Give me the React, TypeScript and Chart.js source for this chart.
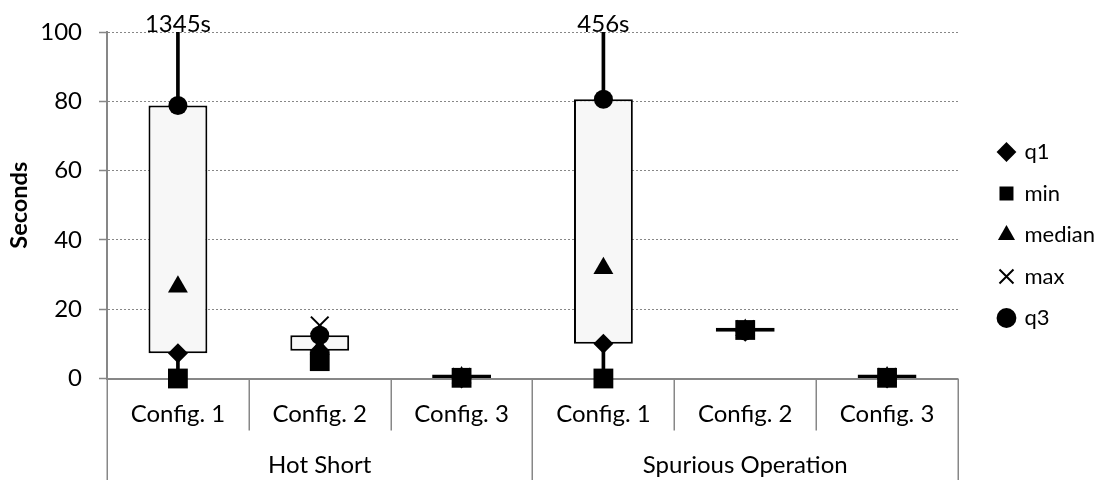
import React, { useEffect, useRef } from 'react';
import { Chart, registerables } from 'chart.js';

Chart.register(...registerables);

// ---- data ----
const categories = ['Config. 1', 'Config. 2', 'Config. 3', 'Config. 1', 'Config. 2', 'Config. 3'];
const groups = ['Hot Short', 'Spurious Operation'];
const groupSize = 3;
const minVals = [0, 5, 0.2, 0, 14, 0.2];
const q1Vals = [7.3, 8, 0, 10, 13.5, 0];
const medianVals = [26.5, 8.5, 0.3, 31.8, 14, 0.3];
const q3Vals = [78.8, 12.5, 0.3, 80.6, 13.8, 0.3];
const maxVals = [1345, 15.3, 0.4, 456, 14.2, 0.4];
const yTicks = [0, 20, 40, 60, 80, 100];
const yTitle = 'Seconds';

const FONT = 'Lato, "Open Sans", sans-serif';
const GRAY = '#878787';
const TXT = '#000000';
const TICK_SIZE = 24;

const decorPlugin = {
  id: 'decor',
  afterDraw(chart: any) {
    const { ctx, chartArea, scales } = chart;
    const x = scales.x;
    const y = scales.y;
    const n = categories.length;
    ctx.save();
    // category separators
    ctx.strokeStyle = GRAY;
    ctx.lineWidth = 1.5;
    for (let b = 0; b <= n; b++) {
      const px = Math.round(x.getPixelForValue(b - 0.5)) + 0.25;
      const isGroup = b % groupSize === 0;
      const yEnd = isGroup ? chart.height : chartArea.bottom + 52;
      ctx.beginPath();
      ctx.moveTo(px, chartArea.bottom);
      ctx.lineTo(px, yEnd);
      ctx.stroke();
    }
    ctx.fillStyle = TXT;
    ctx.font = `${TICK_SIZE}px ${FONT}`;
    ctx.textAlign = 'center';
    // group labels (second level of the category axis)
    ctx.textBaseline = 'middle';
    groups.forEach((g, gi) => {
      const first = gi * groupSize;
      const last = first + groupSize - 1;
      const cx = (x.getPixelForValue(first - 0.5) + x.getPixelForValue(last + 0.5)) / 2;
      ctx.fillText(g, cx, chartArea.bottom + 87);
    });
    // off-scale max labels
    ctx.textBaseline = 'alphabetic';
    const yMax = y.max;
    maxVals.forEach((v, i) => {
      if (v > yMax) {
        ctx.fillText(`${v}s`, x.getPixelForValue(i), chartArea.top - 0.5);
      }
    });
    ctx.restore();
  },
};

const pointDs = (label: string, data: number[], style: string, radius: number, order: number, bw = 0) => ({
  type: 'line' as const,
  label,
  data,
  showLine: false,
  clip: false,
  pointStyle: style,
  pointRadius: radius,
  pointHoverRadius: radius,
  backgroundColor: '#000',
  borderColor: '#000',
  pointBackgroundColor: '#000',
  pointBorderColor: '#000',
  pointBorderWidth: bw,
  borderWidth: bw,
  order,
});

export default function App() {
  const ref = useRef<HTMLCanvasElement | null>(null);

  useEffect(() => {
    document.body.style.margin = '0';
    if (!ref.current) return;
    const chart = new Chart(ref.current, {
      type: 'bar',
      data: {
        labels: categories,
        datasets: [
          {
            type: 'bar',
            label: 'whisker',
            data: categories.map((_, i) => [minVals[i], maxVals[i]]) as any,
            backgroundColor: '#000',
            borderWidth: 0,
            barThickness: 3,
            grouped: false,
            order: 10,
          } as any,
          {
            type: 'bar',
            label: 'box',
            data: categories.map((_, i) => [q1Vals[i], q3Vals[i]]) as any,
            backgroundColor: '#f7f7f7',
            borderColor: '#000',
            borderWidth: 2,
            borderSkipped: false,
            barPercentage: 0.415,
            categoryPercentage: 1,
            grouped: false,
            minBarLength: 4,
            clip: false,
            order: 9,
          } as any,
          pointDs('q1', q1Vals, 'rectRot', 10, 4),
          pointDs('min', minVals, 'rect', 14, 0),
          pointDs('median', medianVals, 'triangle', 11.5, 3),
          pointDs('max', maxVals, 'crossRot', 12.5, 2, 2),
          pointDs('q3', q3Vals, 'circle', 9.5, 1),
        ] as any,
      },
      options: {
        animation: false,
        responsive: false,
        devicePixelRatio: 1,
        layout: { padding: { left: 0, right: 0, top: 0, bottom: 10 } },
        plugins: {
          title: {
            display: true,
            text: '',
            font: { size: 10, lineHeight: 1 },
            padding: { top: 22, bottom: 0 },
          },
          tooltip: { enabled: false },
          legend: {
            display: true,
            position: 'right',
            align: 'center',
            labels: {
              usePointStyle: true,
              boxWidth: 14,
              boxHeight: 14,
              padding: 19.5,
              color: TXT,
              font: { family: FONT, size: 22 },
              filter: (item: any) => item.text !== 'whisker' && item.text !== 'box',
              sort: (a: any, b: any) => a.datasetIndex - b.datasetIndex,
            },
          },
        },
        scales: {
          x: {
            type: 'category',
            position: 'bottom',
            offset: true,
            grid: { display: false, drawTicks: false },
            border: { display: true, color: GRAY, width: 2 },
            ticks: { color: TXT, font: { family: FONT, size: TICK_SIZE }, padding: 21, maxRotation: 0, autoSkip: false },
            afterFit: (s: any) => { s.height = 91.5; },
          },
          y: {
            type: 'linear',
            position: 'left',
            min: yTicks[0],
            max: yTicks[yTicks.length - 1],
            afterBuildTicks: (s: any) => { s.ticks = yTicks.map((v) => ({ value: v })); },
            grid: {
              color: (c: any) => (c.tick && c.tick.value === 0 ? 'rgba(0,0,0,0)' : GRAY),
              lineWidth: 1,
              drawTicks: true,
              tickLength: 8,
              tickColor: GRAY,
              tickWidth: 1.5,
            },
            border: { display: true, color: GRAY, width: 2, dash: [2, 2] },
            ticks: { color: TXT, font: { family: FONT, size: TICK_SIZE }, padding: 17 },
            title: {
              display: true,
              text: yTitle,
              color: TXT,
              font: { family: FONT, size: 23.5, weight: 'bold' },
              padding: { top: 5, bottom: 0 },
            },
            afterFit: (s: any) => { s.width = 107; },
          },
          yr: {
            type: 'linear',
            position: 'right',
            display: true,
            grid: { display: false, drawTicks: false },
            border: { display: false },
            ticks: { display: false },
            afterFit: (s: any) => { s.width = 22; },
          },
        },
      } as any,
      plugins: [decorPlugin],
    });
    return () => chart.destroy();
  }, []);

  return (
    <div style={{ width: 1105, height: 480 }}>
      <canvas ref={ref} width={1105} height={480} />
    </div>
  );
}
